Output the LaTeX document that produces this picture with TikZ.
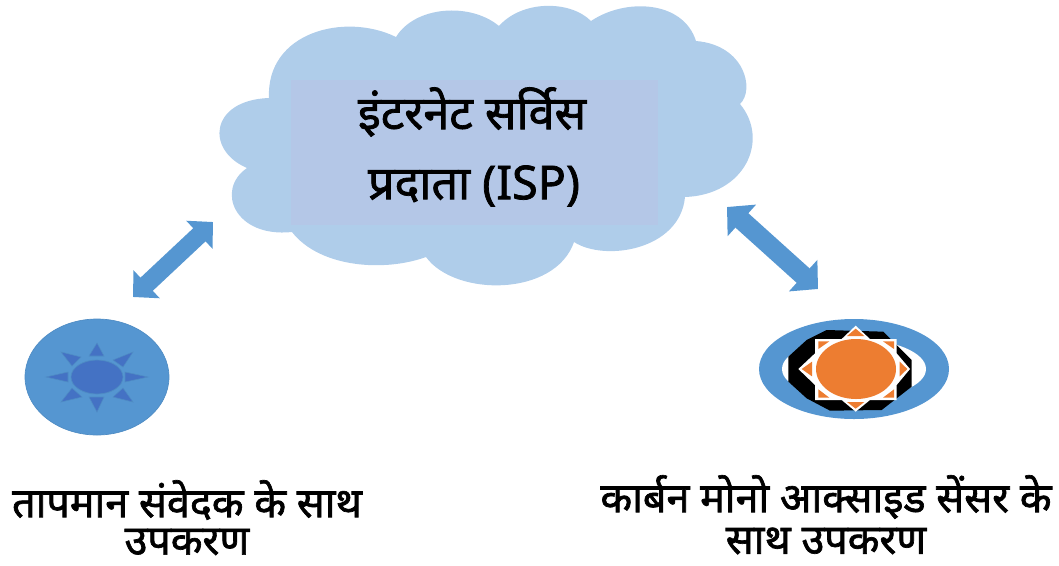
\documentclass[tikz,border=0pt]{standalone}
\usepackage{fontspec}
\newfontfamily\hindi[Script=Devanagari,FakeBold=1.6]{Noto Sans}
\definecolor{cloudblue}{HTML}{AFCDEA}
\definecolor{rectblue}{HTML}{B4C7E7}
\definecolor{midblue}{HTML}{5596D1}
\definecolor{edgeblue}{HTML}{4F8CC4}
\definecolor{deepblue}{HTML}{4472C4}
\definecolor{sunorange}{HTML}{ED7D31}
\usetikzlibrary{arrows.meta,shapes.geometric}
\tikzset{
  x=0.75pt,y=-0.75pt,
  bigtxt/.style={font=\hindi\fontsize{35}{38}\selectfont,text=black,inner sep=0pt,anchor=center},
  smalltxt/.style={font=\hindi\fontsize{31}{34}\selectfont,text=black,inner sep=0pt,anchor=center},
  dblarrow/.style={draw=midblue,line width=13.5pt,{Triangle[length=14pt,width=28pt]}-{Triangle[length=14pt,width=28pt]}},
  dblarrowb/.style={draw=midblue,line width=14.5pt,{Triangle[length=15pt,width=31pt]}-{Triangle[length=15pt,width=31pt]}},
  tri/.style={fill=deepblue,draw=edgeblue,line width=0.4pt},
  otri/.style={fill=sunorange},
}
\begin{document}
\begin{tikzpicture}
\useasboundingbox (0,0) rectangle (1059,565);
% cloud
\fill[cloudblue] (269,98)
  .. controls (266,32) and (345,12) .. (396,37)
  .. controls (415,6) and (470,2) .. (499,26)
  .. controls (522,0) and (570,0) .. (591,21)
  .. controls (625,-2) and (683,0) .. (696,41)
  .. controls (745,45) and (755,90) .. (740,104)
  .. controls (770,140) and (745,195) .. (685,197)
  .. controls (680,250) and (605,262) .. (574,242)
  .. controls (555,297) and (455,297) .. (426,257)
  .. controls (385,272) and (320,268) .. (292,232)
  .. controls (235,238) and (215,190) .. (247,168)
  .. controls (205,150) and (210,100) .. (269,98) -- cycle;
\fill[rectblue] (291,80) rectangle (658,225);
\node[bigtxt] (t1) at (472,112) {इंटरनेट सर्विस};
\node[bigtxt] (t2) at (474,186) {प्रदाता\ (ISP)};
% arrows
\coordinate (la) at (213,222);
\coordinate (lb) at (133,297);
\coordinate (ra) at (727,207);
\coordinate (rb) at (818,289);
\draw[dblarrow] (la) -- (lb);
\draw[dblarrowb] (ra) -- (rb);
% left device
\node[draw=edgeblue,fill=midblue,ellipse,minimum width=108pt,minimum height=87pt,inner sep=0pt,line width=0.5pt] (dev1) at (97,377) {};
\node[draw=edgeblue,fill=deepblue,ellipse,minimum width=39pt,minimum height=25.5pt,inner sep=0pt,line width=0.5pt] (sun1) at (97,377) {};
\filldraw[tri] (97,343)--(89,356)--(104,356)--cycle;
\filldraw[tri] (97,412)--(89,397)--(104,397)--cycle;
\filldraw[tri] (46,377)--(68,372)--(68,382)--cycle;
\filldraw[tri] (148,377)--(125,372)--(125,382)--cycle;
\filldraw[tri] (61,352)--(81,357)--(72,366)--cycle;
\filldraw[tri] (133,352)--(113,360)--(123,367)--cycle;
\filldraw[tri] (61,402)--(72,388)--(82,397)--cycle;
\filldraw[tri] (133,402)--(123,388)--(113,397)--cycle;
% right device
\fill[midblue] (854,369) ellipse [x radius=95,y radius=50];
\fill[white] (854,369) ellipse [x radius=72,y radius=30];
\begin{scope}[shift={(700,190)},x=0.25pt,y=-0.25pt]
\fill[black] (380,420)--(550,425)--(635,510)--(635,590)--(545,660)--(390,662)--(320,625)--(265,575)--(265,500)--(320,450)--cycle;
\fill[white] (467,407)--(510,447)--(590,447)--(590,490)--(630,537)--(590,585)--(590,630)--(510,630)--(467,665)--(425,630)--(345,630)--(345,585)--(295,537)--(345,490)--(345,447)--(425,447)--cycle;
\fill[otri] (467,416)--(441,438)--(493,438)--cycle;
\fill[otri] (467,656)--(441,636)--(493,636)--cycle;
\fill[otri] (305,537)--(336,515)--(336,559)--cycle;
\fill[otri] (622,537)--(599,515)--(599,559)--cycle;
\fill[otri] (355,454)--(388,454)--(355,477)--cycle;
\fill[otri] (582,454)--(549,454)--(582,477)--cycle;
\fill[otri] (355,623)--(388,623)--(355,598)--cycle;
\fill[otri] (582,623)--(549,623)--(582,598)--cycle;
\end{scope}
\node[fill=sunorange,ellipse,minimum width=60pt,minimum height=45pt,inner sep=0pt] (sun2) at (856,369) {};
% labels
\node[smalltxt] (l1) at (187,500) {तापमान संवेदक के साथ};
\node[smalltxt] (l2) at (187,542) {उपकरण};
\node[smalltxt] (r1) at (826,497) {कार्बन मोनो आक्साइड सेंसर के};
\node[smalltxt] (r2) at (826,541) {साथ उपकरण};
\end{tikzpicture}
\end{document}
